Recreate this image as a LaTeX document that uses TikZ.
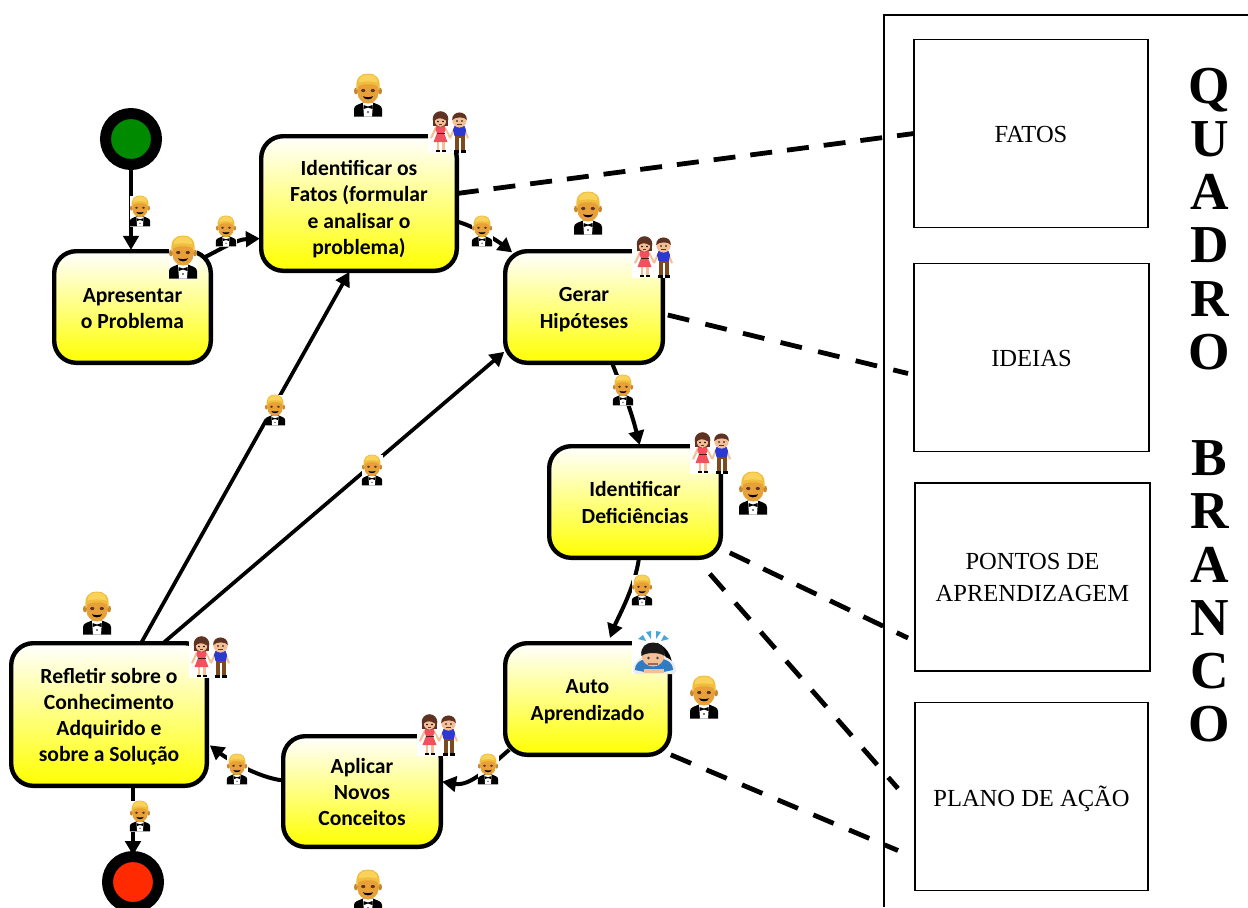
\documentclass[tikz,border=0pt]{standalone}
\usepackage{fontspec}
\setmainfont{Liberation Serif}
\newfontfamily\boxfont{Carlito}
\usetikzlibrary{arrows.meta,calc}
\newcommand{\px}{0.75pt}
\newcommand{\tstrut}[1]{\rule{0pt}{#1pt}}
\newcommand{\bstrut}[1]{\rule[-#1pt]{0pt}{0pt}}
\definecolor{skin}{HTML}{E8A038}
\definecolor{hair}{HTML}{F8D25A}
\definecolor{hairdark}{HTML}{F0BE3C}
\definecolor{brownhair}{HTML}{5E3324}
\definecolor{lightskin}{HTML}{F4BE96}
\definecolor{dress}{HTML}{F1505F}
\definecolor{shirtblue}{HTML}{2B38D2}
\definecolor{pants}{HTML}{7C4A1E}
\definecolor{sweater}{HTML}{2F7CC4}
\definecolor{sweat}{HTML}{45A8D8}
\definecolor{startgreen}{HTML}{008A00}
\definecolor{endred}{HTML}{FF2A00}
\tikzset{
  stepbox/.style n args={2}{draw=black,line width=3.3pt,rounded corners=16.5pt,
    top color=white,bottom color=yellow,minimum width=#1*\px+1.2pt,minimum height=#2*\px+1.2pt,
    inner sep=0pt,outer sep=0pt,align=center,
    font=\boxfont\bfseries\fontsize{16.2}{19.6}\selectfont},
  terminal/.style={circle,draw=black,line width=8.25pt,fill=#1,minimum size=51*\px,inner sep=0pt,outer sep=0pt},
  boardbox/.style={draw=black,line width=1.2pt,fill=white,minimum width=#1*\px,minimum height=188*\px,
    inner sep=0pt,outer sep=0pt,align=center,font=\fontsize{18.4}{24}\selectfont},
  flow/.style={draw=black,line width=3pt,-{Triangle[length=10.5pt,width=11.5pt]},shorten >=1pt},
  longflow/.style={flow,line width=2.8pt},
  dashlink/.style={draw=black,line width=3.6pt,dash pattern=on 16.5pt off 11.25pt},
  widedash/.style={draw=black,line width=3.6pt,dash pattern=on 16.5pt off 12.5pt},
  pics/manemoji/.style={code={
    \fill[black] (-14,21.5) -- (-14,14) .. controls (-14,10) and (-9,9.5) .. (-5,7.5) -- (5,7.5) .. controls (9,9.5) and (14,10) .. (14,14) -- (14,21.5) -- cycle;
    \fill[white] (-5,8) -- (5,8) -- (4,21.5) -- (-4,21.5) -- cycle;
    \fill[black] (-4.5,10) -- (0,11.5) -- (4.5,10) -- (4.5,14) -- (0,12.5) -- (-4.5,14) -- cycle;
    \fill[black] (0,17) circle (0.8);
    \fill[skin!85!black] (-12,-4) ellipse (2 and 3.4);
    \fill[skin!85!black] (12,-4) ellipse (2 and 3.4);
    \fill[skin] (-10.5,-12) -- (10.5,-12) -- (10.5,-2) .. controls (10.5,4) and (5,8.5) .. (0,8.5) .. controls (-5,8.5) and (-10.5,4) .. (-10.5,-2) -- cycle;
    \fill[hairdark] (-11.5,-5) .. controls (-13,-18) and (-7,-21.5) .. (0,-21.5) .. controls (7,-21.5) and (13,-18) .. (11.5,-5) .. controls (10.5,-8) and (9.5,-9.5) .. (7,-10) .. controls (3,-11) and (-3,-11) .. (-7,-10) .. controls (-9.5,-9.5) and (-10.5,-8) .. (-11.5,-5) -- cycle;
    \fill[hair] (-9.5,-12.5) .. controls (-9.5,-18.5) and (-4,-20.5) .. (0,-20.5) .. controls (4,-20.5) and (9.5,-18.5) .. (9.5,-12.5) .. controls (4,-14) and (-4,-14) .. (-9.5,-12.5) -- cycle;
    \fill[brownhair] (-4.8,-4.5) ellipse (2.1 and 1.6);
    \fill[brownhair] (4.8,-4.5) ellipse (2.1 and 1.6);
    \fill[black] (-5.2,1.2) .. controls (-3,2.4) and (3,2.4) .. (5.2,1.2) .. controls (4,5.4) and (-4,5.4) .. (-5.2,1.2) -- cycle;
  }},
  pics/couple/.style={code={
    \fill[white] (-21,-21) rectangle (21,21);
    % woman
    \fill[lightskin] (-19,6) -- (-17,6.5) -- (-12,-4) -- (-14,-5) -- cycle;
    \fill[lightskin] (0,6) -- (2,5) -- (-3,-4) -- (-5,-5) -- cycle;
    \fill[lightskin] (-12.5,6) rectangle (-10,18);
    \fill[lightskin] (-7,6) rectangle (-4.5,18);
    \fill[black] (-13.5,17.5) rectangle (-9.5,20);
    \fill[black] (-7.5,17.5) rectangle (-3.5,20);
    \fill[dress] (-13,-6) -- (-4,-6) -- (-3.5,-2) -- (-5,1) -- (-1.5,10) -- (-15.5,10) -- (-12,1) -- (-13.5,-2) -- cycle;
    \fill[black!70!dress] (-12.5,1) rectangle (-4.5,2);
    \fill[brownhair] (-8.5,-13) ellipse (7.8 and 7.8);
    \fill[brownhair] (-16.3,-13) rectangle (-0.7,-6.5);
    \fill[lightskin] (-8.5,-11) ellipse (5.6 and 5.8);
    \fill[brownhair] (-14.2,-11.5) .. controls (-12,-14) and (-8,-15) .. (-2.8,-11.5) -- (-3,-18) -- (-14,-18) -- cycle;
    \fill[black] (-11,-10.5) circle (0.9);
    \fill[black] (-6,-10.5) circle (0.9);
    \fill[brownhair] (-10,-7.6) rectangle (-7,-6.9);
    % man
    \fill[lightskin] (0,6) -- (2,6.5) -- (6,-3) -- (4.5,-4) -- cycle;
    \fill[lightskin] (20,6) -- (18,6.5) -- (14.5,-3) -- (16,-4) -- cycle;
    \fill[pants] (5.5,3) rectangle (16,6);
    \fill[pants] (5.5,5) rectangle (10,19);
    \fill[pants] (11.5,5) rectangle (16,19);
    \fill[black] (5,18) rectangle (10,20.5);
    \fill[black] (11.5,18) rectangle (16.5,20.5);
    \fill[shirtblue] (5.5,-6) -- (15.5,-6) -- (17,-2) -- (16,4) -- (5.5,4) -- (4,-2) -- cycle;
    \fill[lightskin] (10.5,-12) ellipse (7.2 and 7.6);
    \fill[brownhair] (3.2,-12) .. controls (2.5,-22) and (18.5,-22) .. (17.8,-12) .. controls (16,-15.5) and (6,-15.5) .. (3.2,-12) -- cycle;
    \fill[black] (8,-11) circle (0.9);
    \fill[black] (13,-11) circle (0.9);
    \fill[brownhair] (8,-7.6) rectangle (13,-6.9);
  }},
  pics/bowemoji/.style={code={
    \fill[white] (-21,-22) rectangle (4,22);
    \fill[black!8] (-20,19) .. controls (-20,8) and (-10,3) .. (1,3) .. controls (12,3) and (23,8) .. (23,19) -- (21,22) -- (-18,22) -- cycle;
    \fill[sweater] (-18,18) .. controls (-18,9) and (-9,6) .. (1,6) .. controls (11,6) and (20,9) .. (20,18) -- (10,20) -- (-8,20) -- cycle;
    \fill[lightskin] (-9,17) rectangle (11,21);
    \fill[lightskin] (0,3) ellipse (11.5 and 11.5);
    \fill[black!90] (-11.5,4) .. controls (-15,-14) and (15,-14) .. (11.5,4) .. controls (7,0) and (-7,0) .. (-11.5,4) -- cycle;
    \fill[black!75] (-4.5,6) circle (1.4);
    \fill[black!75] (4.5,6) circle (1.4);
    \fill[brownhair!60!lightskin] (-5,10.5) rectangle (5,12.5);
    \fill[sweat] (-15,-13) -- (-10,-17) -- (-7,-11) -- cycle;
    \fill[sweat] (-7,-20) -- (-2,-21) -- (-2,-13) -- cycle;
    \fill[sweat] (3,-13) -- (3,-21) -- (8,-20) -- cycle;
    \fill[sweat] (8,-11) -- (11,-17) -- (16,-13) -- cycle;
  }},
}
\newcommand{\smallman}[1]{%
  \fill[white] ($(#1)+(-10.5,-15.5)$) rectangle ($(#1)+(10.5,15.5)$);
  \pic[scale=.72] at (#1) {manemoji};}
\begin{document}
\begin{tikzpicture}[x=0.75pt,y=-0.75pt]
\path[use as bounding box] (0,0) rectangle (1248,907);
\clip (0,0) rectangle (1248,907);

% quadro branco
\draw[black,line width=1.4pt] (884,907) -- (884,15) -- (1248,15);
\node[boardbox=234] (fatos) at (1031,133.5) {\tstrut{19.5}FATOS\bstrut{6}};
\node[boardbox=235] (ideias) at (1031.5,357.5) {\tstrut{19}IDEIAS\bstrut{6}};
\node[boardbox=235] (pontos) at (1032.5,577) {\tstrut{18}PONTOS DE\\APRENDIZAGEM\bstrut{6}};
\node[boardbox=233] (plano) at (1031.5,796.5) {\tstrut{21}PLANO DE AÇÃO\bstrut{6}};
\node[align=center,inner sep=0pt,font=\bfseries\fontsize{40}{39.9}\selectfont] (quadro) at (1209.5,405)
  {Q\\U\\A\\D\\R\\O\\~\\B\\R\\A\\N\\C\\O};

% etapas
\node[terminal=startgreen] (start) at (131,139) {};
\node[terminal=endred] (end) at (133,882) {};
\node[stepbox={155}{110}] (apresentar) at (132.5,307) {\tstrut{19.7}Apresentar\\o Problema\bstrut{6.5}};
\node[stepbox={194}{133}] (identificar) at (359,203.5) {\tstrut{23.7}Identificar os\\Fatos (formular\\e analisar o\\problema)\bstrut{6.5}};
\node[stepbox={156}{110}] (gerar) at (584,307) {\tstrut{18.5}Gerar\\Hipóteses\bstrut{6.5}};
\node[stepbox={170}{110}] (deficiencias) at (635,502) {\tstrut{18.5}Identificar\\Deficiências\bstrut{6.5}};
\node[stepbox={163}{110}] (auto) at (587.5,699) {\tstrut{18.5}Auto\\Aprendizado\bstrut{6.5}};
\node[stepbox={156}{109}] (aplicar) at (362,791.5) {\tstrut{18.5}Aplicar\\Novos\\Conceitos\bstrut{6.5}};
\node[stepbox={194}{141}] (refletir) at (109,714.5) {\tstrut{18.5}Refletir sobre o\\Conhecimento\\Adquirido e\\sobre a Solução\bstrut{6.5}};

% ligações
\draw[longflow] ($(refletir.north)+(32,0)$) -- ($(identificar.south)+(-9,0)$);
\draw[longflow] ($(refletir.north)+(54,0)$) -- ($(gerar.west)+(0,44)$);
\draw[flow] (start.south) -- (start.south |- apresentar.north);
\draw[flow] ($(apresentar.north east)+(-8,7)$) .. controls ($(apresentar.north east)+(12,-3)$) and ($(identificar.west)+(-25,36)$) .. ($(identificar.west)+(0,35)$);
\draw[flow] ($(identificar.east)+(0,18)$) .. controls ($(identificar.east)+(22,24)$) and ($(gerar.north west)+(-2,-6)$) .. ($(gerar.north west)+(8,2)$);
\draw[flow] ($(gerar.south)+(28,0)$) .. controls ($(gerar.south)+(38,26)$) and ($(deficiencias.north)+(-5,-40)$) .. ($(deficiencias.north)+(5,0)$);
\draw[flow] ($(deficiencias.south)+(4,0)$) .. controls ($(deficiencias.south)+(0,30)$) and ($(auto.north)+(30,-25)$) .. ($(auto.north)+(22,-4)$);
\draw[flow] ($(auto.south west)+(4,-5)$) .. controls ($(auto.south west)+(-16,12)$) and ($(aplicar.east)+(30,-5)$) .. ($(aplicar.east)+(0,-10)$);
\draw[flow] ($(aplicar.west)+(0,-11)$) .. controls ($(aplicar.west)+(-26,-14)$) and ($(refletir.east)+(20,44)$) .. ($(refletir.east)+(2,30)$);
\draw[flow] (end.north |- refletir.south) -- (end.north);

% quadro: ligações tracejadas
\coordinate (idEnd) at ($(ideias.west)+(-6,16)$);
\coordinate (poEnd) at ($(pontos.west)+(-7,61)$);
\coordinate (plEnd1) at ($(plano.west)+(-17,-8)$);
\coordinate (plEnd2) at ($(plano.west)+(-17,54)$);
\draw[dashlink] ($(identificar.east)+(0,-10)$) -- (fatos.west);
\draw[widedash] ($(gerar.east)+(5,8)$) -- (idEnd);
\draw[dashlink] ($(deficiencias.south east)+(9,-5)$) -- (poEnd);
\draw[widedash] ($(deficiencias.south east)+(-11,16)$) -- (plEnd1);
\draw[widedash] ($(auto.south east)+(1,0)$) -- (plEnd2);

% emojis
\pic at (368,95) {manemoji};
\pic at (588,213) {manemoji};
\pic at (753,493) {manemoji};
\pic at (704,697) {manemoji};
\pic at (97,613) {manemoji};
\pic at (368,891) {manemoji};
\fill[white] (169,235) rectangle (197,279);
\pic at (183,257) {manemoji};
\smallman{140,211}
\smallman{226,231}
\smallman{482,231}
\smallman{623,390}
\smallman{642,590}
\smallman{488,769}
\smallman{237,769}
\smallman{140,816}
\smallman{275,410}
\smallman{372,470}
\pic at (449,132) {couple};
\pic at (653,257) {couple};
\pic at (711,453) {couple};
\pic at (438,735) {couple};
\pic at (210,657) {couple};
\pic at (653,652) {bowemoji};
\end{tikzpicture}
\end{document}
